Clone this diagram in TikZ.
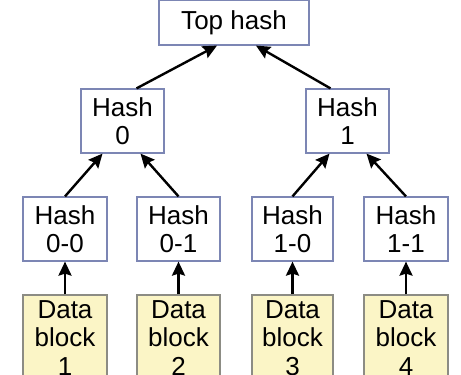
\documentclass[tikz,border=0pt]{standalone}
\usepackage{fontspec}
\setmainfont{Liberation Sans}
\usetikzlibrary{arrows.meta}
\definecolor{hashborder}{HTML}{7C86B4}
\definecolor{databorder}{HTML}{8C8C84}
\definecolor{datafill}{HTML}{FBF5C6}
\begin{document}
\begin{tikzpicture}[x=1pt,y=-1pt,
  box/.style={draw=hashborder,line width=1.2pt,fill=white,inner sep=0pt,
    align=center,font=\fontsize{26}{28.5}\selectfont,minimum height=64pt},
  hashbox/.style={box,minimum width=83pt},
  databox/.style={box,draw=databorder,fill=datafill,minimum width=84pt,minimum height=86pt},
  conn/.style={line width=2.4pt,-{Stealth[length=14pt,width=13pt,inset=2pt]}}]
\useasboundingbox (0,0) rectangle (461,375);
\begin{scope}
\clip (0,0) rectangle (461,375);
\node[box,minimum width=150pt,minimum height=45pt] (top) at (234,22.5) {Top hash};
\node[hashbox] (h0) at (122.5,121) {Hash\\0};
\node[hashbox] (h1) at (347.5,121) {Hash\\1};
\node[hashbox,minimum width=84pt] (h00) at (65,229) {Hash\\0-0};
\node[hashbox] (h01) at (178.5,229) {Hash\\0-1};
\node[hashbox,minimum width=81pt] (h10) at (292.5,229) {Hash\\1-0};
\node[hashbox,minimum width=84pt] (h11) at (406,229) {Hash\\1-1};
\node[databox] (d1) at (65,338) {Data\\block\\1};
\node[databox,minimum width=83pt] (d2) at (178.5,338) {Data\\block\\2};
\node[databox,minimum width=81pt] (d3) at (292.5,338) {Data\\block\\3};
\node[databox] (d4) at (406,338) {Data\\block\\4};
\draw[conn] (d1.north) -- (h00.south);
\draw[conn] (d2.north) -- (h01.south);
\draw[conn] (d3.north) -- (h10.south);
\draw[conn] (d4.north) -- (h11.south);
\draw[conn] (h00.north) -- ([xshift=-20pt]h0.south);
\draw[conn] (h01.north) -- ([xshift=18pt]h0.south);
\draw[conn] (h10.north) -- ([xshift=-18pt]h1.south);
\draw[conn] (h11.north) -- ([xshift=19pt]h1.south);
\draw[conn] ([xshift=14pt]h0.north) -- ([xshift=-17pt]top.south);
\draw[conn] ([xshift=-17pt]h1.north) -- ([xshift=22pt]top.south);
\end{scope}
\end{tikzpicture}
\end{document}
